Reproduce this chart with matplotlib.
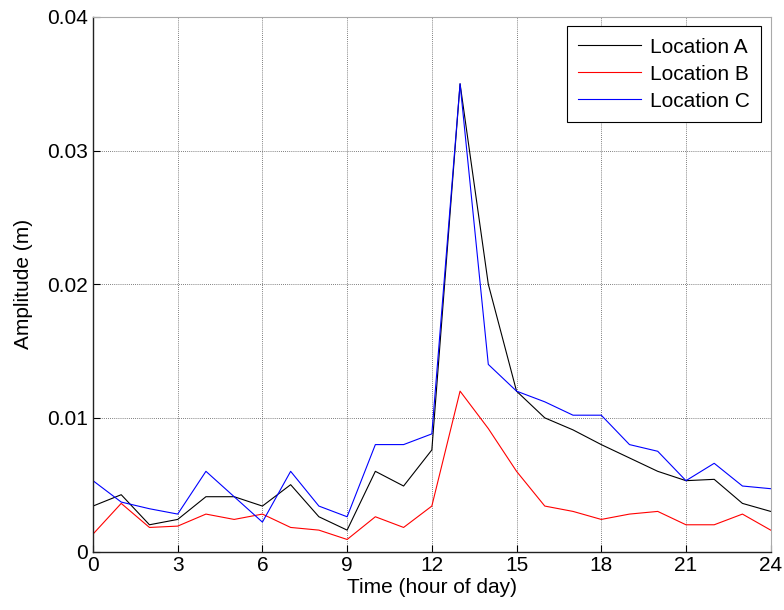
import numpy as np
import matplotlib
matplotlib.use("Agg")
import matplotlib.pyplot as plt

plt.rcParams["font.family"] = ["Liberation Sans", "DejaVu Sans"]

# ---- data ----
hours = list(range(25))

loc_a = [0.0034, 0.00425, 0.0020, 0.0024, 0.0041, 0.0041, 0.0034, 0.0050,
         0.0026, 0.0016, 0.0060, 0.0049, 0.0076, 0.0350, 0.0200, 0.0120,
         0.0100, 0.0091, 0.0080, 0.0070, 0.0060, 0.0053, 0.0054, 0.0036,
         0.0030]
loc_b = [0.0013, 0.0036, 0.0018, 0.0019, 0.0028, 0.0024, 0.0028, 0.0018,
         0.0016, 0.0009, 0.0026, 0.0018, 0.0034, 0.0120, 0.0092, 0.0060,
         0.0034, 0.0030, 0.0024, 0.0028, 0.0030, 0.0020, 0.0020, 0.0028,
         0.0016]
loc_c = [0.0053, 0.0037, 0.0032, 0.0028, 0.0060, 0.0041, 0.0022, 0.0060,
         0.0034, 0.0026, 0.0080, 0.0080, 0.0088, 0.0350, 0.0140, 0.0120,
         0.0112, 0.0102, 0.0102, 0.0080, 0.0075, 0.0053, 0.0066, 0.0049,
         0.0047]

labels = ["Location A", "Location B", "Location C"]
colors = ["black", "red", "blue"]

x_ticks = list(range(0, 25, 3))
y_ticks = [0, 0.01, 0.02, 0.03, 0.04]
y_tick_labels = ["0", "0.01", "0.02", "0.03", "0.04"]

fig = plt.figure(figsize=(7.84, 6.10), dpi=100)
ax = fig.add_axes([0.1186, 0.0959, 0.8644, 0.8763])

for series, lab, col in zip([loc_a, loc_b, loc_c], labels, colors):
    ax.plot(hours, series, color=col, lw=0.8, label=lab)

ax.set_xlim(0, 24)
ax.set_ylim(0, 0.04)
ax.set_xticks(x_ticks)
ax.set_yticks(y_ticks)
ax.set_yticklabels(y_tick_labels)
ax.tick_params(direction="in", length=5, labelsize=15, width=0.8)

ax.grid(True, color="#555555", linestyle=(0, (1, 1.5)), linewidth=0.6)

for side in ["left", "bottom"]:
    ax.spines[side].set_color("#222222")
    ax.spines[side].set_linewidth(1.0)
for side in ["top", "right"]:
    ax.spines[side].set_color("#aaaaaa")
    ax.spines[side].set_linewidth(0.8)

ax.set_xlabel("Time (hour of day)", fontsize=15, labelpad=2)
ax.set_ylabel("Amplitude (m)", fontsize=15, labelpad=10)

leg = ax.legend(loc="upper right", fontsize=15, fancybox=False, framealpha=1,
                edgecolor="black", handlelength=3.0, borderaxespad=0.45,
                labelspacing=0.38, handletextpad=0.45, borderpad=0.55)
leg.get_frame().set_linewidth(0.8)

fig.savefig("out.png", dpi=100)
